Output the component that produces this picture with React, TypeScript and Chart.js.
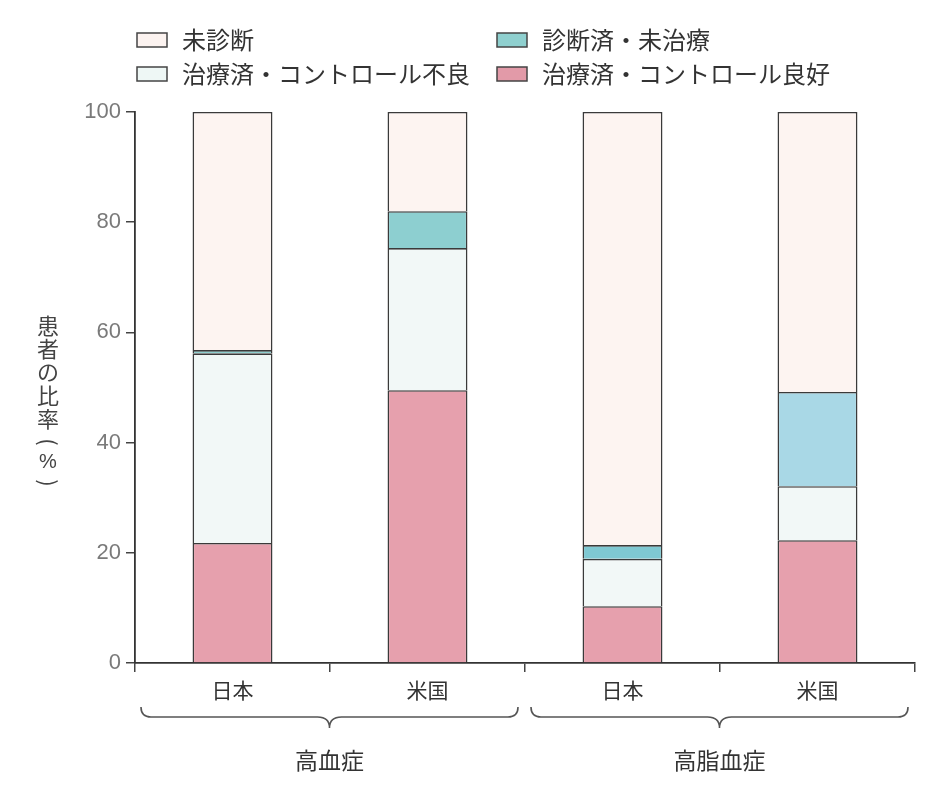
import React, { useEffect, useRef } from "react";
import { Chart, registerables } from "chart.js";

Chart.register(...registerables);

const categories = ["日本", "米国", "日本", "米国"];
const groups = ["高血症", "高脂血症"];
const seriesNames = ["治療済・コントロール良好", "治療済・コントロール不良", "診断済・未治療", "未診断"];
const controlledGood = [21.8, 49.5, 10.3, 22.3];
const controlledPoor = [34.4, 25.8, 8.6, 9.8];
const diagnosedUntreated = [0.6, 6.7, 2.5, 17.1];
const undiagnosed = [43.2, 18.0, 78.6, 50.8];
const yTicks = [0, 20, 40, 60, 80, 100];

const CJK = '"Noto Sans CJK JP", "Noto Sans", sans-serif';
const NUM = '"Liberation Sans", "DejaVu Sans", sans-serif';

const decorPlugin = {
  id: "decor",
  afterDraw(chart: any) {
    const ctx = chart.ctx;
    const area = chart.chartArea;
    ctx.save();
    // legend
    const legend = [
      { name: seriesNames[3], color: "#fcf3f0", bx: 137, by: 33 },
      { name: seriesNames[2], color: "#8fd0cf", bx: 497, by: 33 },
      { name: seriesNames[1], color: "#eef7f5", bx: 137, by: 67 },
      { name: seriesNames[0], color: "#e29aa8", bx: 497, by: 67 },
    ];
    ctx.font = `24px ${CJK}`;
    ctx.textBaseline = "middle";
    ctx.textAlign = "left";
    legend.forEach((l) => {
      ctx.fillStyle = l.color;
      ctx.fillRect(l.bx, l.by, 30, 14);
      ctx.strokeStyle = "#444";
      ctx.lineWidth = 1.5;
      ctx.strokeRect(l.bx, l.by, 30, 14);
      ctx.fillStyle = "#333";
      ctx.fillText(l.name, l.bx + 45, l.by + 7);
    });

    // y title (vertical, upright)
    const chars = ["患", "者", "の", "比", "率"];
    const cys = [326, 349, 372, 396, 419];
    ctx.fillStyle = "#444";
    ctx.textAlign = "center";
    ctx.font = `22px ${CJK}`;
    chars.forEach((c, i) => ctx.fillText(c, 48, cys[i]));
    const paren = ["(", "%", ")"];
    const py = [442, 462, 483];
    paren.forEach((c, i) => {
      ctx.save();
      ctx.translate(48, py[i]);
      if (c !== "%") ctx.rotate(Math.PI / 2);
      ctx.font = c === "%" ? `20px ${NUM}` : `22px ${CJK}`;
      ctx.fillText(c, 0, 0);
      ctx.restore();
    });

    // braces
    const n = categories.length;
    const step = (area.right - area.left) / n;
    ctx.strokeStyle = "#555";
    ctx.lineWidth = 1.6;
    groups.forEach((g, gi) => {
      const x1 = area.left + step * 2 * gi + 6;
      const x2 = area.left + step * 2 * (gi + 1) - 7;
      const mid = (x1 + x2) / 2;
      const top = 707;
      const y = 717;
      ctx.beginPath();
      ctx.moveTo(x1, top);
      ctx.quadraticCurveTo(x1, y, x1 + 10, y);
      ctx.lineTo(mid - 12, y);
      ctx.quadraticCurveTo(mid, y, mid, y + 11);
      ctx.quadraticCurveTo(mid, y, mid + 12, y);
      ctx.lineTo(x2 - 10, y);
      ctx.quadraticCurveTo(x2, y, x2, top);
      ctx.stroke();
      ctx.fillStyle = "#333";
      ctx.font = `23px ${CJK}`;
      ctx.textAlign = "center";
      ctx.fillText(g, mid, 760);
    });
    ctx.restore();
  },
};

export default function App() {
  const ref = useRef<HTMLCanvasElement>(null);
  useEffect(() => {
    if (!ref.current) return;
    const border = "#3a3a3a";
    const chart = new Chart(ref.current, {
      type: "bar",
      data: {
        labels: categories,
        datasets: [
          { label: seriesNames[0], data: controlledGood, backgroundColor: "#e6a0ad", borderColor: border, borderWidth: 1.6 },
          { label: seriesNames[1], data: controlledPoor, backgroundColor: "#f2f8f7", borderColor: border, borderWidth: 1.6 },
          { label: seriesNames[2], data: diagnosedUntreated, backgroundColor: ["#8fd0cf", "#8dcfd0", "#7fc8d2", "#a9d8e6"], borderColor: border, borderWidth: 1.6 },
          { label: seriesNames[3], data: undiagnosed, backgroundColor: "#fdf4f1", borderColor: border, borderWidth: 1.6 },
        ],
      },
      options: {
        responsive: false,
        animation: false,
        layout: { padding: { top: 112, right: 10, left: 0, bottom: 0 } },
        datasets: { bar: { barPercentage: 0.41, categoryPercentage: 1 } },
        plugins: { legend: { display: false }, title: { display: false }, tooltip: { enabled: false } },
        scales: {
          x: {
            stacked: true,
            grid: { offset: true, drawOnChartArea: false, drawTicks: true, tickLength: 9, color: "#444", lineWidth: 1.5 },
            border: { color: "#333", width: 1.8 },
            ticks: { color: "#333", font: { size: 21, family: CJK }, padding: 5 },
            afterFit: (s: any) => { s.height = 123; },
          },
          y: {
            stacked: true,
            min: 0,
            max: 100,
            afterBuildTicks: (s: any) => { s.ticks = yTicks.map((v) => ({ value: v })); },
            grid: { drawOnChartArea: false, drawTicks: true, tickLength: 9, color: "#444", lineWidth: 1.5 },
            border: { color: "#333", width: 1.8 },
            ticks: { color: "#7a7a7a", font: { size: 22, family: NUM }, padding: 5 },
            afterFit: (s: any) => { s.width = 135; },
          },
        },
      },
      plugins: [decorPlugin],
    });
    return () => chart.destroy();
  }, []);
  return (
    <div style={{ position: "absolute", left: 0, top: 0, width: 925, height: 786, background: "#fff" }}>
      <canvas ref={ref} width={925} height={786} style={{ display: "block" }} />
    </div>
  );
}
